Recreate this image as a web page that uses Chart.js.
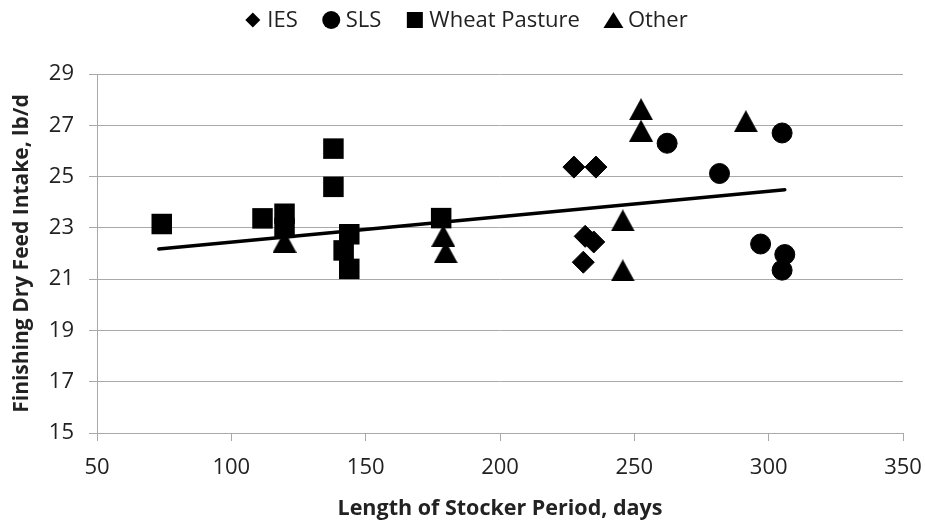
<!DOCTYPE html>
<html>
<head>
<meta charset="utf-8">
<script src="https://cdn.jsdelivr.net/npm/chart.js@4.4.1/dist/chart.umd.min.js"></script>
<style>
  html, body { margin: 0; padding: 0; background: #ffffff; }
  #wrap { width: 925px; height: 525px; position: relative; }
  canvas { display: block; }
</style>
</head>
<body>
<div id="wrap"><canvas id="chart" width="925" height="525"></canvas></div>
<script>
// Series names and values: stocker period length (days) vs finishing dry feed intake (lb/d)
const seriesNames = ['IES', 'SLS', 'Wheat Pasture', 'Other'];

const iesDays   = [227.5, 235.7, 231.7, 234.9, 231.0];
const iesIntake = [25.37, 25.37, 22.67, 22.45, 21.66];

const slsDays   = [262.2, 281.7, 305.0, 297.0, 306.0, 305.0];
const slsIntake = [26.30, 25.12, 26.70, 22.37, 21.96, 21.35];

const wheatDays   = [74.1, 111.6, 119.8, 119.8, 138.0, 138.0, 143.9, 141.8, 143.9, 178.1];
const wheatIntake = [23.15, 23.37, 23.55, 23.00, 26.09, 24.60, 22.75, 22.12, 21.40, 23.38];

const otherDays   = [119.8, 178.9, 179.8, 245.7, 245.7, 252.5, 252.5, 291.5];
const otherIntake = [22.46, 22.69, 22.05, 23.29, 21.34, 27.63, 26.79, 27.16];

// Linear trend across all groups (end points)
const trendDays   = [73, 306];
const trendIntake = [22.18, 24.49];

// Axis ticks
const xTickValues = [50, 100, 150, 200, 250, 300, 350];
const yTickValues = [15, 17, 19, 21, 23, 25, 27, 29];

const xTitle = 'Length of Stocker Period, days';
const yTitle = 'Finishing Dry Feed Intake, lb/d';

const FONT = '"Open Sans", "Liberation Sans", Arial, sans-serif';
const TEXT = '#222222';
const GRID = '#a9a9a9';

function toPoints(xs, ys) {
  return xs.map((x, i) => ({ x: x, y: ys[i] }));
}

// Upright triangle marker centred on its bounding box
function makeTriangle(w, h) {
  const c = document.createElement('canvas');
  c.width = w; c.height = h;
  const g = c.getContext('2d');
  g.fillStyle = '#000';
  g.beginPath();
  g.moveTo(w / 2, 0);
  g.lineTo(w, h);
  g.lineTo(0, h);
  g.closePath();
  g.fill();
  return c;
}

// Legend row drawn across the top
const topLegend = {
  id: 'topLegend',
  afterDraw(chart) {
    const ctx = chart.ctx;
    const items = chart.data.datasets.filter(d => d.legendShape);
    ctx.save();
    ctx.font = '22px ' + FONT;
    ctx.textBaseline = 'middle';
    ctx.fillStyle = TEXT;
    const markerW = 17, markerGap = 6, itemGap = 25;
    const widths = items.map(d => ctx.measureText(d.label).width);
    let total = 0;
    widths.forEach((w, i) => { total += markerW + markerGap + w + (i < widths.length - 1 ? itemGap : 0); });
    let x = 466 - total / 2;
    const cy = 20;
    items.forEach((d, i) => {
      const mx = x + markerW / 2;
      ctx.fillStyle = '#000';
      ctx.beginPath();
      switch (d.legendShape) {
        case 'diamond':
          ctx.moveTo(mx, cy - 7.5); ctx.lineTo(mx + 7.5, cy);
          ctx.lineTo(mx, cy + 7.5); ctx.lineTo(mx - 7.5, cy);
          break;
        case 'circle':
          ctx.arc(mx, cy, 9, 0, Math.PI * 2);
          break;
        case 'square':
          ctx.rect(mx - 8, cy - 8, 16, 16);
          break;
        case 'triangle':
          ctx.moveTo(mx, cy - 8); ctx.lineTo(mx + 10, cy + 8); ctx.lineTo(mx - 10, cy + 8);
          break;
      }
      ctx.closePath();
      ctx.fill();
      ctx.fillStyle = TEXT;
      ctx.textAlign = 'left';
      ctx.fillText(d.label, x + markerW + markerGap, cy + 1);
      x += markerW + markerGap + widths[i] + itemGap;
    });
    ctx.restore();
  }
};

function build() {
  const triangle = makeTriangle(24, 22);

  new Chart(document.getElementById('chart'), {
    type: 'scatter',
    data: {
      datasets: [
        {
          label: seriesNames[0], legendShape: 'diamond',
          data: toPoints(iesDays, iesIntake),
          pointStyle: 'rectRot', pointRadius: 11,
          backgroundColor: '#000', borderColor: '#000', borderWidth: 1
        },
        {
          label: seriesNames[1], legendShape: 'circle',
          data: toPoints(slsDays, slsIntake),
          pointStyle: 'circle', pointRadius: 10,
          backgroundColor: '#000', borderColor: '#000', borderWidth: 1
        },
        {
          label: seriesNames[2], legendShape: 'square',
          data: toPoints(wheatDays, wheatIntake),
          pointStyle: 'rect', pointRadius: 14.5,
          backgroundColor: '#000', borderColor: '#000', borderWidth: 0
        },
        {
          label: seriesNames[3], legendShape: 'triangle',
          data: toPoints(otherDays, otherIntake),
          pointStyle: triangle, pointRadius: 12,
          backgroundColor: '#000', borderColor: '#000', borderWidth: 0
        },
        {
          label: 'Linear trend',
          data: toPoints(trendDays, trendIntake),
          showLine: true, pointRadius: 0,
          borderColor: '#000', borderWidth: 3.5,
          borderCapStyle: 'round', fill: false
        }
      ]
    },
    options: {
      responsive: false,
      animation: false,
      events: [],
      layout: { padding: { top: 74, right: 22, left: 0, bottom: 0 } },
      plugins: {
        legend: { display: false },
        tooltip: { enabled: false }
      },
      scales: {
        x: {
          type: 'linear',
          min: xTickValues[0],
          max: xTickValues[xTickValues.length - 1],
          afterBuildTicks(scale) { scale.ticks = xTickValues.map(v => ({ value: v })); },
          afterFit(scale) {
            scale.height = 92;
            scale.paddingLeft = 0;
            scale.paddingRight = 0;
          },
          grid: { drawOnChartArea: false, color: GRID, tickLength: 8, lineWidth: 1 },
          border: { display: true, color: GRID, width: 1 },
          ticks: { color: TEXT, font: { family: FONT, size: 22 }, padding: 14, maxRotation: 0, autoSkip: false },
          title: {
            display: true, text: xTitle, color: TEXT,
            font: { family: FONT, size: 21.5, weight: 'bold' },
            padding: { top: 0, bottom: 3 }
          }
        },
        y: {
          type: 'linear',
          min: yTickValues[0],
          max: yTickValues[yTickValues.length - 1],
          afterBuildTicks(scale) { scale.ticks = yTickValues.map(v => ({ value: v })); },
          afterFit(scale) { scale.width = 97; },
          grid: { color: GRID, tickLength: 8, lineWidth: 1 },
          border: { display: true, color: GRID, width: 1 },
          ticks: { color: TEXT, font: { family: FONT, size: 22 }, padding: 15, autoSkip: false },
          title: {
            display: true, text: yTitle, color: TEXT,
            font: { family: FONT, size: 21, weight: 'bold' },
            padding: 9
          }
        }
      }
    },
    plugins: [topLegend]
  });
}

if (document.fonts && document.fonts.load) {
  Promise.all([
    document.fonts.load('22px "Open Sans"'),
    document.fonts.load('bold 22px "Open Sans"')
  ]).then(build, build);
} else {
  build();
}
</script>
</body>
</html>
